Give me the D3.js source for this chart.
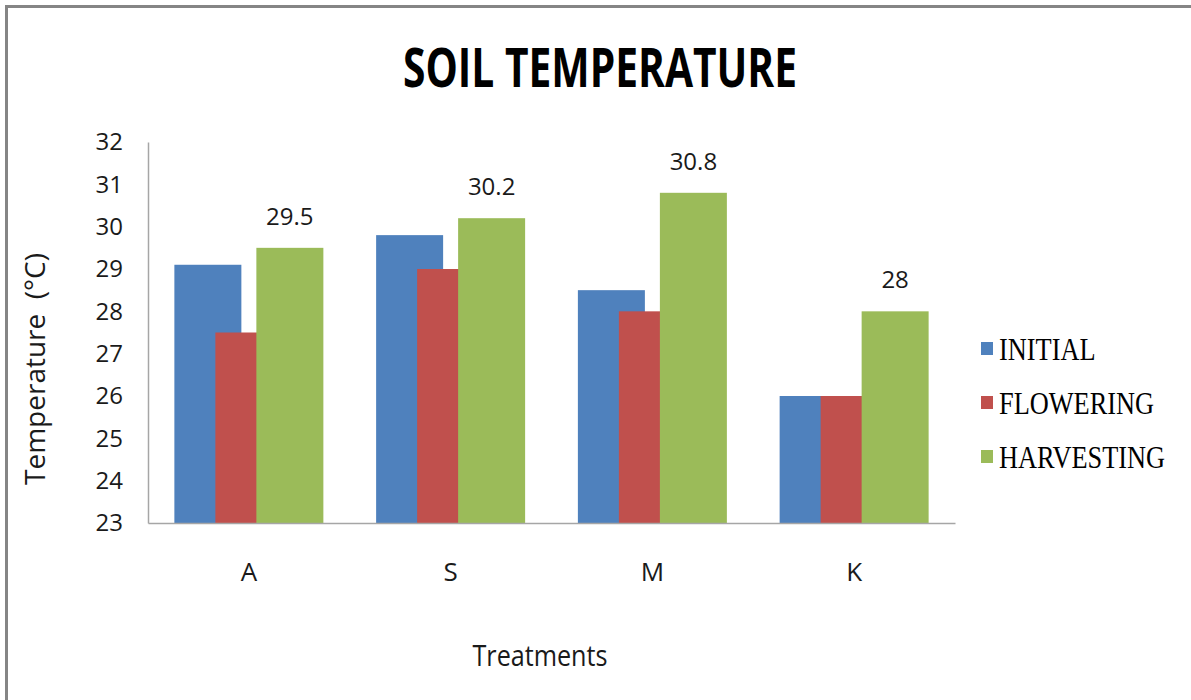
<!DOCTYPE html>
<html>
<head>
<meta charset="utf-8">
<script src="https://cdn.jsdelivr.net/npm/d3@7/dist/d3.min.js"></script>
<style>
  html, body { margin: 0; padding: 0; background: #fff; }
  svg { display: block; }
</style>
</head>
<body>
<svg id="chart" width="1191" height="700"></svg>
<script>
const categories = ["A", "S", "M", "K"];
const seriesNames = ["INITIAL", "FLOWERING", "HARVESTING"];
const initialValues = [29.1, 29.8, 28.5, 26.0];
const floweringValues = [27.5, 29.0, 28.0, 26.0];
const harvestingValues = [29.5, 30.2, 30.8, 28.0];
const yTicks = [23, 24, 25, 26, 27, 28, 29, 30, 31, 32];
const colors = ["#4F81BD", "#C0504D", "#9BBB59"];
const seriesValues = [initialValues, floweringValues, harvestingValues];

(function () {
const svg = d3.select("#chart");

// frame (cropped chart border)
svg.append("line").attr("x1", 6).attr("x2", 1191).attr("y1", 6.5).attr("y2", 6.5)
  .attr("stroke", "#858585").attr("stroke-width", 3);
svg.append("line").attr("x1", 6.5).attr("x2", 6.5).attr("y1", 5).attr("y2", 700)
  .attr("stroke", "#858585").attr("stroke-width", 3);

const plotLeft = 148, plotRight = 955, plotTop = 142, plotBottom = 523;

const y = d3.scaleLinear().domain([23, 32]).range([plotBottom, plotTop]);
const x0 = d3.scaleBand().domain(categories).range([plotLeft, plotRight])
  .paddingInner(0.2615).paddingOuter(0.1307);
const bw = x0.bandwidth();
const barW = bw * 67 / 149;
const shift = bw * 41 / 149;

// bars
seriesValues.forEach((vals, si) => {
  svg.append("g").selectAll("rect")
    .data(vals.map((v, i) => ({ cat: categories[i], v })))
    .join("rect")
    .attr("x", d => x0(d.cat) + si * shift)
    .attr("width", barW)
    .attr("y", d => y(d.v))
    .attr("height", d => y(23) - y(d.v))
    .attr("fill", colors[si]);
});

// y axis
const yAxis = svg.append("g").attr("transform", `translate(${plotLeft},0)`)
  .call(d3.axisLeft(y).tickValues(yTicks).tickSize(0).tickPadding(25).tickFormat(d3.format("d")));
yAxis.select(".domain").attr("stroke", "#a6a6a6").attr("stroke-width", 1.5);
yAxis.selectAll("text").attr("font-family", "Open Sans").attr("font-size", 24).attr("fill", "#1a1a1a");

// x axis
const xAxis = svg.append("g").attr("transform", `translate(0,${plotBottom})`)
  .call(d3.axisBottom(x0).tickSize(0));
xAxis.select(".domain").attr("stroke", "#a6a6a6").attr("stroke-width", 1.5);
xAxis.selectAll("text").attr("font-family", "Open Sans").attr("font-size", 26)
  .attr("fill", "#1a1a1a").attr("y", 40).attr("dy", "0.71em");

// data labels on harvesting
svg.append("g").selectAll("text")
  .data(harvestingValues.map((v, i) => ({ cat: categories[i], v })))
  .join("text")
  .attr("x", d => x0(d.cat) + 2 * shift + barW / 2)
  .attr("y", d => y(d.v) - 23)
  .attr("text-anchor", "middle")
  .attr("font-family", "Open Sans").attr("font-size", 24).attr("fill", "#1a1a1a")
  .text(d => d.v);

// title
svg.append("text").attr("x", 600).attr("y", 87).attr("text-anchor", "middle")
  .attr("font-family", "Open Sans").attr("font-weight", 700).attr("font-size", 54)
  .attr("textLength", 394).attr("lengthAdjust", "spacingAndGlyphs")
  .attr("fill", "#000").text("SOIL TEMPERATURE");

// axis titles
svg.append("text").attr("transform", "translate(45,369) rotate(-90)")
  .attr("text-anchor", "middle").attr("font-family", "Open Sans").attr("font-size", 28)
  .attr("fill", "#1a1a1a").style("white-space", "pre").text("Temperature  (°C)");
svg.append("text").attr("x", 540).attr("y", 666).attr("text-anchor", "middle")
  .attr("font-family", "Open Sans").attr("font-size", 30)
  .attr("textLength", 135).attr("lengthAdjust", "spacingAndGlyphs")
  .attr("fill", "#1a1a1a").text("Treatments");

// legend
const rowY = [349, 403, 457];
const lg = svg.append("g");
seriesNames.forEach((name, i) => {
  lg.append("rect").attr("x", 981).attr("y", rowY[i] - 7).attr("width", 12).attr("height", 13)
    .attr("fill", colors[i]);
  lg.append("text").attr("transform", `translate(999,${rowY[i] + 10.5}) scale(0.85,1)`)
    .attr("font-family", "Liberation Serif").attr("font-size", 31).attr("fill", "#000")
    .text(name);
});
})();
</script>
</body>
</html>
